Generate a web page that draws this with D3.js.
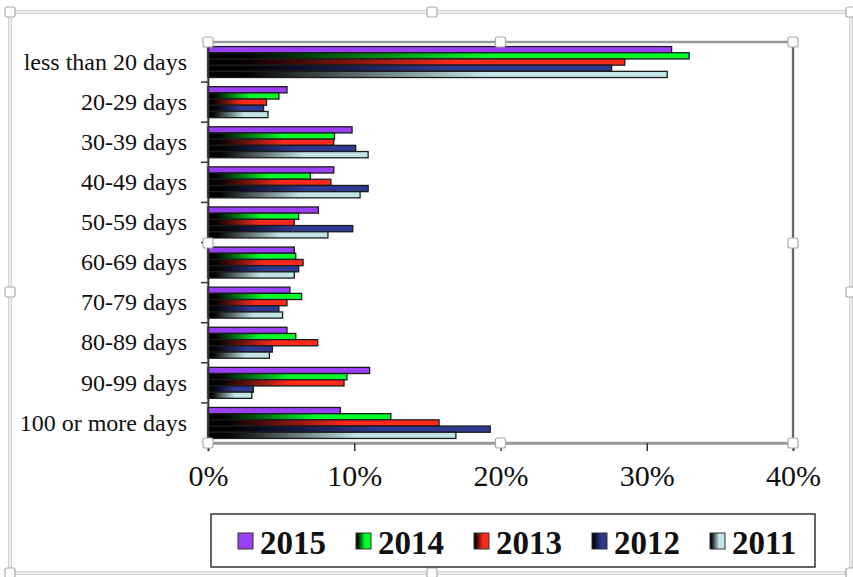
<!DOCTYPE html>
<html>
<head>
<meta charset="utf-8">
<script src="https://cdn.jsdelivr.net/npm/d3@7"></script>
<style>
  body { margin: 0; background: #fff; }
  svg { display: block; }
</style>
</head>
<body>
<svg id="chart" width="853" height="577"></svg>
<script>
const categories = ['less than 20 days', '20-29 days', '30-39 days', '40-49 days', '50-59 days',
    '60-69 days', '70-79 days', '80-89 days', '90-99 days', '100 or more days'];
const years = ['2015', '2014', '2013', '2012', '2011'];
const colors = ['#9b40f7', '#00ff2a', '#ff2a1a', '#2e3a92', '#c0e4e7'];
const gradientYears = ['2014', '2013', '2012', '2011'];

// share of each category per year
const v2015 = [0.317, 0.054, 0.0985, 0.086, 0.0755, 0.059, 0.056, 0.054, 0.1105, 0.0905];
const v2014 = [0.329, 0.0485, 0.0865, 0.070, 0.062, 0.060, 0.064, 0.060, 0.095, 0.125];
const v2013 = [0.285, 0.040, 0.086, 0.084, 0.059, 0.065, 0.054, 0.075, 0.093, 0.158];
const v2012 = [0.276, 0.038, 0.101, 0.1095, 0.099, 0.062, 0.0485, 0.044, 0.031, 0.193];
const v2011 = [0.314, 0.041, 0.1095, 0.104, 0.082, 0.059, 0.051, 0.042, 0.030, 0.1695];
const series = [v2015, v2014, v2013, v2012, v2011];

const xTicks = [0, 0.1, 0.2, 0.3, 0.4];

const svg = d3.select('#chart');
const serif = '"Liberation Serif", "Times New Roman", serif';

const x = d3.scaleLinear().domain([0, 0.4]).range([208, 793]);
const gap = 0.227;
const y = d3.scaleBand().domain(categories).range([42, 443]).paddingInner(gap).paddingOuter(gap / 2);
const ySub = d3.scaleBand().domain(years).range([0, y.bandwidth()]);
const color = d3.scaleOrdinal().domain(years).range(colors);

// gradients: black on the left, colour towards the right
const defs = svg.append('defs');
gradientYears.forEach(yr => {
    const g = defs.append('linearGradient')
        .attr('id', 'grad' + yr)
        .attr('x1', 0).attr('x2', 1).attr('y1', 0).attr('y2', 0);
    g.append('stop').attr('offset', '0%').attr('stop-color', '#000');
    g.append('stop').attr('offset', '8%').attr('stop-color', '#000');
    g.append('stop').attr('offset', '60%').attr('stop-color', color(yr));
    g.append('stop').attr('offset', '100%').attr('stop-color', color(yr));
});
const fillFor = yr => gradientYears.includes(yr) ? `url(#grad${yr})` : color(yr);

// outer chart area frame (selected look)
svg.append('rect').attr('x', 10).attr('y', 12).attr('width', 841).attr('height', 561)
    .attr('fill', 'none').attr('stroke', '#d2d2d2').attr('stroke-width', 4);
svg.append('rect').attr('x', 10).attr('y', 12).attr('width', 841).attr('height', 561)
    .attr('fill', 'none').attr('stroke', '#fff').attr('stroke-width', 1.2);

// plot area border
svg.append('rect')
    .attr('x', x(0)).attr('y', 42)
    .attr('width', x(0.4) - x(0)).attr('height', 401)
    .attr('fill', 'none').attr('stroke', '#9a9a9a').attr('stroke-width', 2.5);
svg.append('line')
    .attr('x1', x(0.4)).attr('x2', x(0.4)).attr('y1', 42).attr('y2', 443)
    .attr('stroke', '#555').attr('stroke-width', 1.5);

// bars
const rows = categories.map((c, i) => ({ cat: c, vals: years.map((yr, j) => ({ yr, v: series[j][i] })) }));
const group = svg.append('g').selectAll('g')
    .data(rows)
    .enter()
    .append('g')
    .attr('transform', d => `translate(0,${y(d.cat)})`);

group.selectAll('rect')
    .data(d => d.vals)
    .enter()
    .append('rect')
    .attr('x', x(0))
    .attr('y', d => ySub(d.yr))
    .attr('width', d => x(d.v) - x(0))
    .attr('height', ySub.bandwidth())
    .attr('fill', d => fillFor(d.yr))
    .attr('stroke', '#1c1c1c')
    .attr('stroke-width', 1.3);

// bottom axis
const xAxis = svg.append('g')
    .attr('transform', 'translate(0,443)')
    .call(d3.axisBottom(x).tickValues(xTicks).tickFormat(d3.format('.0%')).tickSize(8).tickPadding(14));
xAxis.select('.domain').attr('stroke', '#9a9a9a').attr('stroke-width', 2.5);
xAxis.selectAll('.tick line').attr('stroke', '#333').attr('stroke-width', 1.5);
xAxis.selectAll('text').attr('font-family', serif).attr('font-size', 30).attr('fill', '#111');

// left axis
const yAxis = svg.append('g')
    .attr('transform', `translate(${x(0)},0)`)
    .call(d3.axisLeft(y).tickSize(0).tickPadding(21));
yAxis.select('.domain').attr('stroke', '#333').attr('stroke-width', 1.5);
yAxis.selectAll('text').attr('font-family', serif).attr('font-size', 24).attr('fill', '#111');

const bounds = categories.slice(1).map(c => y(c) - (y.step() - y.bandwidth()) / 2);
svg.append('g').selectAll('line')
    .data(bounds)
    .enter()
    .append('line')
    .attr('x1', x(0) - 7).attr('x2', x(0))
    .attr('y1', d => d).attr('y2', d => d)
    .attr('stroke', '#333').attr('stroke-width', 1.5);

// selection handles
const handle = (hx, hy) => svg.append('rect')
    .attr('x', hx - 5).attr('y', hy - 5).attr('width', 10).attr('height', 10)
    .attr('rx', 2).attr('fill', '#fff').attr('stroke', '#aaa').attr('stroke-width', 1.2);
const midX = (x(0) + x(0.4)) / 2;
[[x(0), 42], [midX, 42], [x(0.4), 42], [x(0), 243], [x(0.4), 243], [x(0), 443], [midX, 443], [x(0.4), 443]]
    .forEach(p => handle(p[0], p[1]));
[[10, 12], [432, 12], [851, 12], [10, 292], [851, 292], [10, 573], [432, 573], [851, 573]]
    .forEach(p => handle(p[0], p[1]));

// legend
const legend = svg.append('g');
legend.append('rect')
    .attr('x', 211).attr('y', 514).attr('width', 604).attr('height', 53)
    .attr('fill', '#fff').attr('stroke', '#333').attr('stroke-width', 1.5);
const item = legend.selectAll('.item')
    .data(years)
    .enter()
    .append('g')
    .attr('class', 'item')
    .attr('transform', (d, i) => `translate(${238 + i * 118},0)`);
item.append('rect')
    .attr('x', 0).attr('y', 533).attr('width', 15).attr('height', 16)
    .attr('fill', d => fillFor(d)).attr('stroke', '#333').attr('stroke-width', 1);
item.append('text')
    .attr('x', 22).attr('y', 554)
    .attr('font-family', serif).attr('font-size', 33).attr('font-weight', 'bold')
    .attr('fill', '#111')
    .text(d => d);
</script>
</body>
</html>
